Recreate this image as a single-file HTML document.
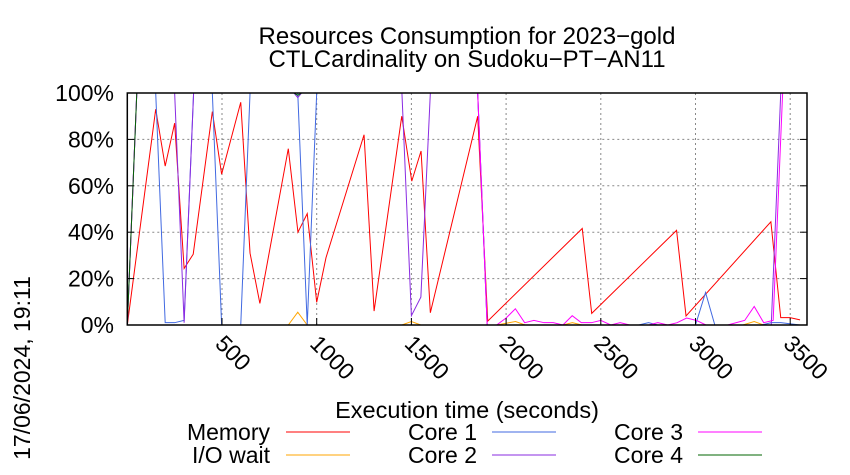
<!DOCTYPE html>
<html><head><meta charset="utf-8"><style>
body{margin:0;background:#fff;}
svg{display:block;font-family:"Liberation Sans",sans-serif;}
</style></head><body>
<svg id="c" width="850" height="475">
<text x="467" y="44" font-size="24" text-anchor="middle">Resources Consumption for 2023−gold</text>
<text x="467" y="67" font-size="24" text-anchor="middle">CTLCardinality on Sudoku−PT−AN11</text>
<text x="467" y="418" font-size="23.5" text-anchor="middle">Execution time (seconds)</text>
<text transform="translate(30,368) rotate(-90)" font-size="23" text-anchor="middle">17/06/2024, 19:11</text>
<g id="grid"></g><g id="series"></g><g id="axes"></g><g id="legend"></g>
</svg>
<script>
const xTicks=[500,1000,1500,2000,2500,3000,3500];
const yTicks=[0,20,40,60,80,100];
const memT=[0,150,200,250,300,348,449,498,599,648,700,850,901,950,1000,1049,1250,1303,1449,1502,1551,1600,1850,1903,2402,2452,2900,2950,3398,3450,3499,3552];
const memV=[0,93,68.5,87,24.4,30.5,92,65,96,31,9.3,76,40,48,9.8,29,82,6,90,62,75,5.3,90,1.7,41.6,5,40.8,3.9,44.5,3.2,3.2,2.2];
const ioT=[0,850,900,950,1450,1500,1550,1950,2050,2100,2300,2350,2400,3250,3310,3360,3552];
const ioV=[0,0,5.5,0,0,1.5,0,0,1.5,0,0,1,0,0,1.5,0,0];
const c1T=[0,50,150,200,250,300,350,449,498,549,599,648,900,950,1000,1850,1900,2700,2752,2800,3000,3053,3102,3350,3400,3450,3552];
const c1V=[0,100,100,1,1,2,100,100,0,0,0,100,100,0,100,100,0,0,1,0,0,14,0,0,1,1,0];
const c2T=[0,50,250,300,350,880,900,920,1450,1500,1550,1600,1850,1900,3400,3450,3552];
const c2V=[0,100,100,1,100,100,98,100,100,4,12,100,100,0,0,100,100];
const c3T=[0,50,1850,1900,1950,2000,2049,2098,2147,2200,2249,2300,2349,2397,2451,2500,2553,2602,2653,2752,2801,2854,2903,2953,3004,3055,3170,3260,3310,3360,3410,3460,3552];
const c3V=[0,100,100,0,0,3,7,1,2,1,1,0,4,1,1,2,0,1,0,0,1,0,1,3,2,0,0,2,8,1,2,100,100];
const c4T=[0,50,880,900,920,3552];
const c4V=[0,100,100,99,100,100];
const L=127.3,R=807,T=93,B=325;
const sx=t=>L+t*0.1894, sy=v=>B-v*(B-T)/100;
const NS="http://www.w3.org/2000/svg";
function mk(tag,at,parent){const e=document.createElementNS(NS,tag);for(const k in at)e.setAttribute(k,at[k]);document.getElementById(parent).appendChild(e);return e;}
yTicks.forEach(v=>{
  if(v>0&&v<100){const g=mk('line',{x1:L,x2:R,y1:sy(v),y2:sy(v),stroke:'#888','stroke-dasharray':'2,3','stroke-width':1},'grid');
  
  }
  const t=mk('text',{x:114,y:sy(v)+8,'font-size':23,'text-anchor':'end'},'axes');t.textContent=v+'%';
  
  
  mk('line',{x1:L,x2:L+7,y1:sy(v),y2:sy(v),stroke:'#000'},'axes');
  mk('line',{x1:R,x2:R-7,y1:sy(v),y2:sy(v),stroke:'#000'},'axes');
});
xTicks.forEach(v=>{
  const g=mk('line',{x1:sx(v),x2:sx(v),y1:T,y2:B,stroke:'#888','stroke-dasharray':'2,3'},'grid');
  
  
  mk('line',{x1:sx(v),x2:sx(v),y1:B,y2:B-7,stroke:'#000'},'axes');
  const t=mk('text',{transform:`translate(${sx(v)-8},${B+20}) rotate(45)`,'font-size':23},'axes');t.textContent=v;
  
  
});
const fr=mk('rect',{x:L,y:T,width:R-L,height:B-T,fill:'none',stroke:'#000','stroke-width':1.5},'axes');


const series=[['memory','#ff0000',memT,memV,'Memory'],['io-wait','#ffa500',ioT,ioV,'I/O wait'],['core-1','#4169e1',c1T,c1V,'Core 1'],['core-2','#8a2be2',c2T,c2V,'Core 2'],['core-3','#ff00ff',c3T,c3V,'Core 3'],['core-4','#006400',c4T,c4V,'Core 4']];
series.forEach(s=>{
  const p=mk('polyline',{points:s[2].map((t,i)=>sx(t)+','+sy(s[3][i])).join(' '),fill:'none',stroke:s[1],'stroke-width':1},'series');
  
  
});
const leg=[[270,286,432],[270,286,455],[477,492,432],[477,492,455],[683,698,432],[683,698,455]];
series.forEach((s,i)=>{
  const [tx,lx,y]=leg[i];
  const t=mk('text',{x:tx,y:y+8,'font-size':23,'text-anchor':'end'},'legend');t.textContent=s[4];
  
  
  const l=mk('line',{x1:lx,x2:lx+64,y1:y,y2:y,stroke:s[1]},'legend');
  
  
});
</script>
</body></html>
